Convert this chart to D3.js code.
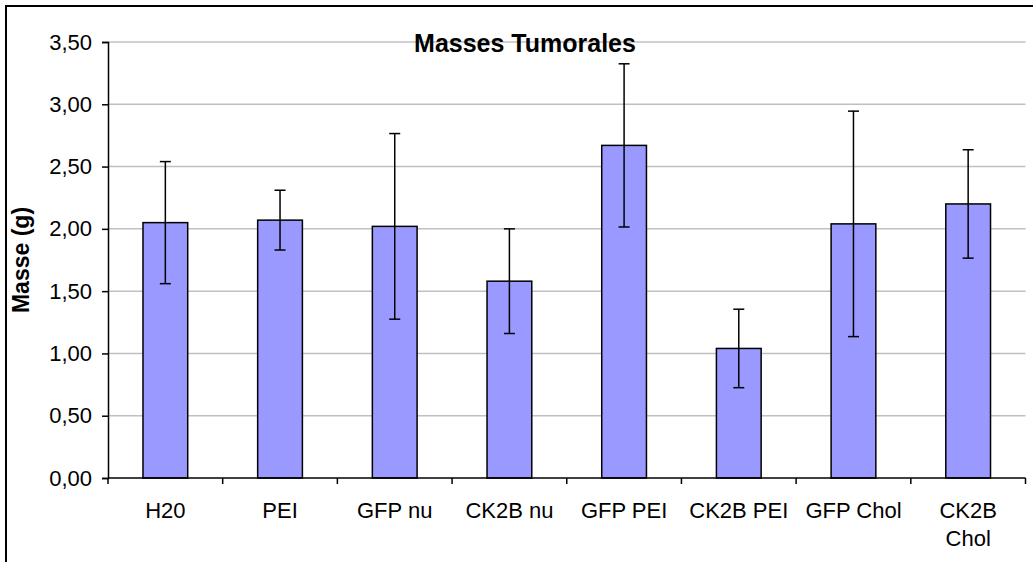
<!DOCTYPE html>
<html>
<head>
<meta charset="utf-8">
<script src="https://cdn.jsdelivr.net/npm/d3@7"></script>
<style>
  html, body { margin: 0; padding: 0; background: #fff; }
  svg { display: block; font-family: "Liberation Sans", Arial, sans-serif; }
</style>
</head>
<body>
<svg id="chart" width="1033" height="562"></svg>
<script>
// Tumour masses per treatment group (mean ± error, grams)
const categories = ["H20", "PEI", "GFP nu", "CK2B nu", "GFP PEI", "CK2B PEI", "GFP Chol", "CK2B Chol"];
const means      = [2.05, 2.07, 2.02, 1.58, 2.67, 1.04, 2.04, 2.20];
const errors     = [0.49, 0.24, 0.745, 0.42, 0.655, 0.315, 0.905, 0.435];
const yTicks     = [0, 0.5, 1, 1.5, 2, 2.5, 3, 3.5];
const chartTitle = "Masses Tumorales";
const yTitle     = "Masse (g)";

const svg = d3.select("#chart");
const plot = { left: 108, right: 1025.5, top: 42, bottom: 478 };

const x = d3.scaleBand()
  .domain(categories)
  .range([plot.left, plot.right])
  .paddingInner(0.61)
  .paddingOuter(0.305);

const xBand = d3.scaleBand()
  .domain(categories)
  .range([plot.left, plot.right]);

const y = d3.scaleLinear().domain([0, 3.5]).range([plot.bottom, plot.top]);

const fmt = v => d3.format(".2f")(v).replace(".", ",");

// outer frame
svg.append("rect")
  .attr("x", 6).attr("y", 6)
  .attr("width", 1200).attr("height", 800)
  .attr("fill", "none").attr("stroke", "#000").attr("stroke-width", 2);

// horizontal gridlines
svg.append("g")
  .selectAll("line")
  .data(yTicks.filter(d => d > 0))
  .join("line")
  .attr("x1", plot.left).attr("x2", plot.right)
  .attr("y1", d => y(d)).attr("y2", d => y(d))
  .attr("stroke", "#c0c0c0").attr("stroke-width", 1.5);

// bars
svg.append("g")
  .selectAll("rect")
  .data(categories)
  .join("rect")
  .attr("x", d => x(d))
  .attr("width", x.bandwidth())
  .attr("y", (d, i) => y(means[i]))
  .attr("height", (d, i) => y(0) - y(means[i]))
  .attr("fill", "#9999ff")
  .attr("stroke", "#000")
  .attr("stroke-width", 1.5);

// error bars
const eb = svg.append("g").attr("stroke", "#000").attr("stroke-width", 1.5);
categories.forEach((c, i) => {
  const cx = x(c) + x.bandwidth() / 2;
  const hi = y(means[i] + errors[i]);
  const lo = y(means[i] - errors[i]);
  eb.append("line").attr("x1", cx).attr("x2", cx).attr("y1", hi).attr("y2", lo);
  eb.append("line").attr("x1", cx - 5.5).attr("x2", cx + 5.5).attr("y1", hi).attr("y2", hi);
  eb.append("line").attr("x1", cx - 5.5).attr("x2", cx + 5.5).attr("y1", lo).attr("y2", lo);
});

// y axis
const yAxis = svg.append("g")
  .attr("transform", `translate(${plot.left},0)`)
  .call(d3.axisLeft(y).tickValues(yTicks).tickFormat(fmt).tickSize(6).tickPadding(10));
yAxis.select(".domain").attr("stroke", "#000").attr("stroke-width", 1.5);
yAxis.selectAll(".tick line").attr("stroke", "#000").attr("stroke-width", 1.5);
yAxis.selectAll(".tick text")
  .attr("font-size", 22).attr("fill", "#000")
  .attr("font-family", "Liberation Sans, Arial, sans-serif");

// x axis: ticks at category boundaries
const boundaries = categories.map(c => xBand(c)).concat([plot.right]);
const xg = svg.append("g");
xg.append("line")
  .attr("x1", plot.left).attr("x2", plot.right)
  .attr("y1", plot.bottom).attr("y2", plot.bottom)
  .attr("stroke", "#000").attr("stroke-width", 1.5);
xg.selectAll("line.tk")
  .data(boundaries)
  .join("line")
  .attr("class", "tk")
  .attr("x1", d => d).attr("x2", d => d)
  .attr("y1", plot.bottom).attr("y2", plot.bottom + 6)
  .attr("stroke", "#000").attr("stroke-width", 1.5);

// category labels (wrap onto two lines when too wide for the slot)
categories.forEach(c => {
  const cx = xBand(c) + xBand.bandwidth() / 2;
  const t = xg.append("text")
    .attr("x", cx).attr("y", 518)
    .attr("text-anchor", "middle")
    .attr("font-size", 22).attr("fill", "#000")
    .text(c);
  if (t.node().getComputedTextLength() > 100) {
    const words = c.split(" ");
    t.text(null);
    words.forEach((w, k) => {
      t.append("tspan").attr("x", cx).attr("dy", k === 0 ? 0 : 28).text(w);
    });
  }
});

// chart title
svg.append("text")
  .attr("x", 525).attr("y", 52)
  .attr("text-anchor", "middle")
  .attr("font-size", 25).attr("font-weight", "bold").attr("fill", "#000")
  .text(chartTitle);

// y axis title
svg.append("text")
  .attr("transform", "translate(29,260) rotate(-90)")
  .attr("text-anchor", "middle")
  .attr("font-size", 23).attr("font-weight", "bold").attr("fill", "#000")
  .text(yTitle);
</script>
</body>
</html>
